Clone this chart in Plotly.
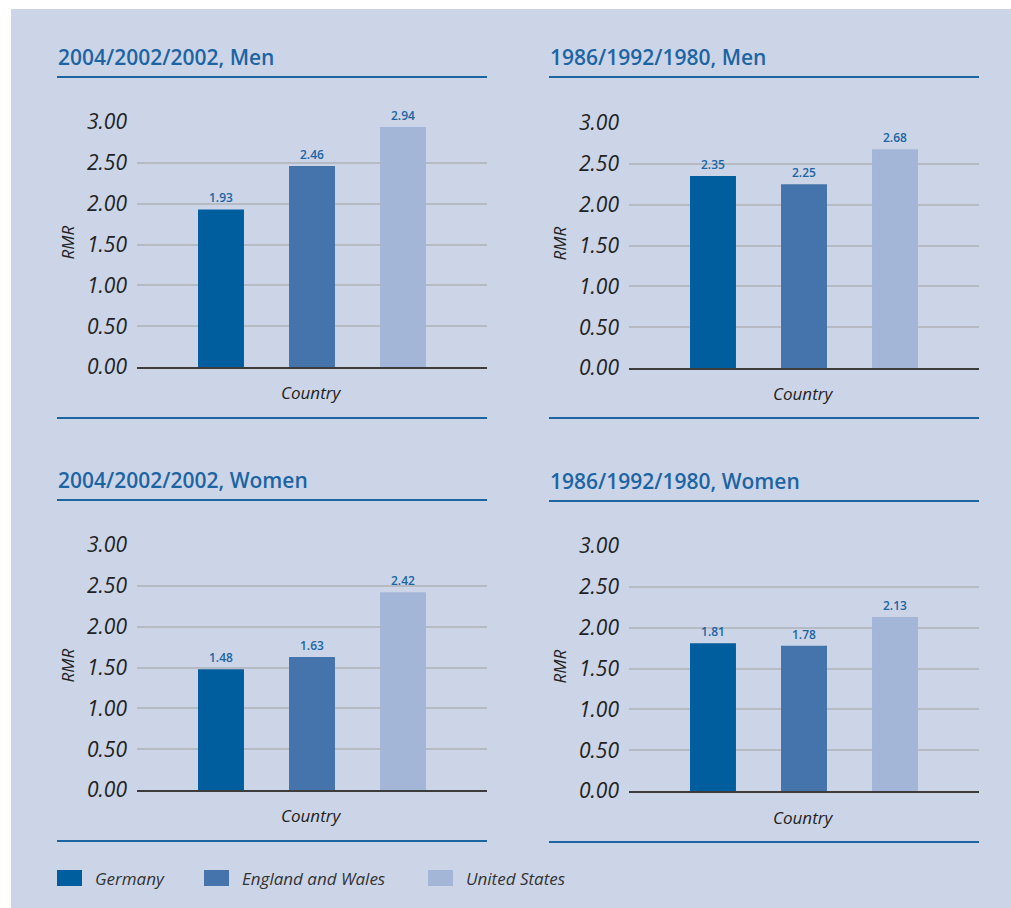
import plotly.graph_objects as go

# ---- data ----
countries = ["Germany", "England and Wales", "United States"]
panel_titles = ["2004/2002/2002, Men", "1986/1992/1980, Men",
                "2004/2002/2002, Women", "1986/1992/1980, Women"]
men_recent = [1.93, 2.46, 2.94]
men_earlier = [2.35, 2.25, 2.68]
women_recent = [1.48, 1.63, 2.42]
women_earlier = [1.81, 1.78, 2.13]
tick_vals = [0, 0.5, 1.0, 1.5, 2.0, 2.5, 3.0]
tick_text = ["0.00", "0.50", "1.00", "1.50", "2.00", "2.50", "3.00"]
y_title = "RMR"
x_title = "Country"

series = [men_recent, men_earlier, women_recent, women_earlier]
colors = ["#005d9e", "#4573ab", "#a4b6d8"]

W, H = 1011, 908
BG = "#cbd5e7"
BLUE = "#1d64a3"
FONT = "Open Sans"


def fx(p):
    return p / W


def fy(p):
    return 1 - p / H


# layout geometry (pixels)
panels = [
    dict(tx=57, lx=(57, 487), px=(137, 487), ty=57, ltop=77, y3=122, y0=367, cy=392, lbot=418),
    dict(tx=549, lx=(549, 979), px=(629, 979), ty=57, ltop=77, y3=123, y0=368, cy=393, lbot=418),
    dict(tx=57, lx=(57, 487), px=(137, 487), ty=480, ltop=500, y3=545, y0=790, cy=815, lbot=841),
    dict(tx=549, lx=(549, 979), px=(629, 979), ty=481, ltop=501, y3=546, y0=791, cy=817, lbot=842),
]

fig = go.Figure()
shapes = [dict(type="rect", xref="paper", yref="paper", x0=fx(11), x1=1.0,
               y0=0.0, y1=fy(9), fillcolor=BG, line=dict(width=0), layer="below")]
annotations = []

for i, (vals, p, title) in enumerate(zip(series, panels, panel_titles)):
    n = "" if i == 0 else str(i + 1)
    xa, ya = "x" + n, "y" + n
    fig.add_trace(go.Bar(
        x=list(range(len(countries))), y=vals, xaxis=xa, yaxis=ya,
        marker=dict(color=colors, line=dict(width=0)),
        width=0.505,
        text=[f"{v:.2f}" for v in vals], textposition="outside",
        textfont=dict(family=FONT, size=12, color=BLUE, weight=600),
        cliponaxis=False, showlegend=False, hoverinfo="skip",
        customdata=countries,
    ))
    fig.update_layout(**{
        "xaxis" + n: dict(domain=[fx(p["px"][0]), fx(p["px"][1])], anchor=ya,
                          range=[-0.923, 2.923], showticklabels=False, showgrid=False,
                          zeroline=False, showline=True, linecolor="#3c3c3c", linewidth=1.6,
                          fixedrange=True),
        "yaxis" + n: dict(domain=[fy(p["y0"]), fy(p["y3"])], anchor=xa,
                          range=[0, 3.0], tickvals=tick_vals, ticktext=tick_text,
                          showgrid=True, gridcolor="#b6bac2", gridwidth=1.6,
                          zeroline=False, showline=False, ticks="",
                          ticklabelstandoff=9,
                          tickfont=dict(family=FONT, size=21, color="#222222", style="italic"),
                          fixedrange=True),
    })
    # title
    annotations.append(dict(text=title, xref="paper", yref="paper",
                            x=fx(p["tx"] - 1), y=fy(p["ty"]), xanchor="left", yanchor="middle",
                            showarrow=False,
                            font=dict(family=FONT, size=21, color=BLUE, weight=600)))
    # RMR
    annotations.append(dict(text=y_title, xref="paper", yref="paper",
                            x=fx(p["tx"] + 10), y=fy((p["y0"] + p["y3"]) / 2 - 2),
                            xanchor="center", yanchor="middle", textangle=-90,
                            showarrow=False,
                            font=dict(family=FONT, size=17, color="#222222", style="italic")))
    # Country
    annotations.append(dict(text=x_title, xref="paper", yref="paper",
                            x=fx((p["px"][0] + p["px"][1]) / 2 - 1), y=fy(p["cy"]),
                            xanchor="center", yanchor="middle", showarrow=False,
                            font=dict(family=FONT, size=17, color="#222222", style="italic")))
    for ly in (p["ltop"], p["lbot"]):
        shapes.append(dict(type="line", xref="paper", yref="paper",
                           x0=fx(p["lx"][0]), x1=fx(p["lx"][1]), y0=fy(ly), y1=fy(ly),
                           line=dict(color=BLUE, width=2)))

# legend (custom)
leg_x = [57, 204, 428]
for c, col, lx in zip(countries, colors, leg_x):
    shapes.append(dict(type="rect", xref="paper", yref="paper",
                       x0=fx(lx), x1=fx(lx + 25), y0=fy(886), y1=fy(870),
                       fillcolor=col, line=dict(width=0)))
    annotations.append(dict(text=c, xref="paper", yref="paper",
                            x=fx(lx + 36), y=fy(878), xanchor="left", yanchor="middle",
                            showarrow=False,
                            font=dict(family=FONT, size=17, color="#333333", style="italic")))

fig.update_layout(width=W, height=H,
                  margin=dict(l=0, r=0, t=0, b=0, pad=0, autoexpand=False),
                  paper_bgcolor="white", plot_bgcolor="rgba(0,0,0,0)",
                  shapes=shapes, annotations=annotations, showlegend=False,
                  bargap=0.5)

fig.write_html("out.html")
